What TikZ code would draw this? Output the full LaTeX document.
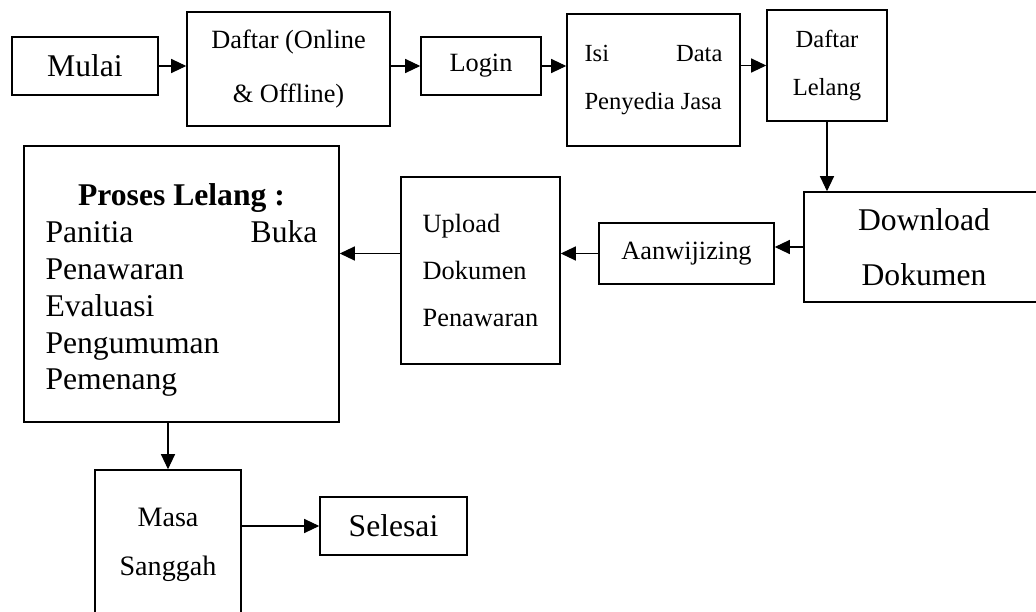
\documentclass[tikz,border=0pt]{standalone}
\usepackage{fontspec}
\setmainfont{Liberation Serif}
\usetikzlibrary{arrows.meta}
\usetikzlibrary{positioning}

\begin{document}
\begin{tikzpicture}[x=0.02cm, y=-0.02cm,
  box/.style={draw, line width=0.9pt, inner sep=0pt},
  arr/.style={-{Triangle[length=0.3cm, width=0.28cm]}, line width=0.6pt}]

\useasboundingbox (0,0) rectangle (1036,612);
\clip (0,0) rectangle (1036,612);

% first row
\node[box, minimum width=2.92cm, minimum height=1.16cm, font=\fontsize{18}{22}\selectfont] (mulai) at (85,66) {Mulai};
\node[box, minimum width=4.06cm, minimum height=2.28cm, align=center, font=\fontsize{15}{31}\selectfont] (daftar) at (288.5,69) {Daftar (Online\\ \& Offline)};
\node[box, minimum width=2.4cm, minimum height=1.16cm, font=\fontsize{15}{18}\selectfont] (login) at (481,66) {Login};
\node[box, minimum width=3.46cm, minimum height=2.64cm, align=left, font=\fontsize{14}{27}\selectfont] (isi) at (653.5,80) {\makebox[2.76cm]{Isi\hfill Data}\\ Penyedia Jasa};
\node[box, minimum width=2.4cm, minimum height=2.22cm, align=center, font=\fontsize{14}{27}\selectfont] (lelang) at (827,65.5) {Daftar\\ Lelang};

% second row
\node[box, minimum width=4.8cm, minimum height=2.2cm, align=center, font=\fontsize{18}{31}\selectfont] (download) at (924,247) {Download\\ Dokumen};
\node[box, minimum width=3.5cm, minimum height=1.22cm, font=\fontsize{15}{18}\selectfont] (aanw) at (686.5,253.5) {Aanwijizing};
\node[box, minimum width=3.18cm, minimum height=3.74cm, align=left, font=\fontsize{15}{27}\selectfont] (upload) at (480.5,270.5) {Upload\\ Dokumen\\ Penawaran};
\node[box, minimum width=6.3cm, minimum height=5.52cm, align=left, font=\fontsize{18}{21}\selectfont] (proses) at (181.5,284) {\rule{0pt}{19.5pt}\makebox[5.44cm]{\textbf{Proses Lelang :}}\\ \makebox[5.44cm]{Panitia\hfill Buka}\\ Penawaran\\ Evaluasi\\ Pengumuman\\ Pemenang};

% third row
\node[box, minimum width=2.92cm, minimum height=3.0cm, align=center, font=\fontsize{16}{28}\selectfont] (masa) at (168,545) {Masa\\ Sanggah};
\node[box, minimum width=2.94cm, minimum height=1.16cm, font=\fontsize{18}{22}\selectfont] (selesai) at (393.5,526) {Selesai};

% connectors
\draw[arr] (mulai.east) -- (mulai.east -| daftar.west);
\draw[arr] (daftar.east |- login) -- (login.west);
\draw[arr] (login.east) -- (login.east -| isi.west);
\draw[arr] (isi.east |- lelang) -- (lelang.west);
\draw[arr] (lelang.south) -- (lelang.south |- download.north);
\draw[arr] (download.west) -- (download.west -| aanw.east);
\draw[arr] (aanw.west) -- (aanw.west -| upload.east);
\draw[arr] (upload.west |- aanw.west) -- (proses.east |- aanw.west);
\draw[arr] (masa.north |- proses.south) -- (masa.north);
\draw[arr] (masa.east |- selesai) -- (selesai.west);

\end{tikzpicture}
\end{document}
